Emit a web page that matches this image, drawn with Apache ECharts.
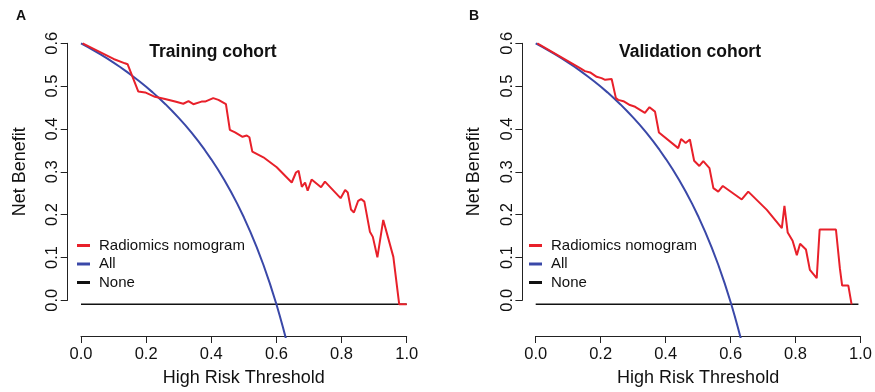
<!DOCTYPE html>
<html><head><meta charset="utf-8">
<script src="https://cdn.jsdelivr.net/npm/echarts@6/dist/echarts.min.js"></script>
<style>html,body{margin:0;padding:0;background:#fff}#c{width:875px;height:392px}</style>
</head><body><div id="c"></div>
<script>
// ---- data ----
const panelLabels = ['A', 'B'];
const panelTitles = ['Training cohort', 'Validation cohort'];
const seriesNames = ['Radiomics nomogram', 'All', 'None'];
const xTicks = [0, 0.2, 0.4, 0.6, 0.8, 1.0];
const yTicks = [0, 0.1, 0.2, 0.3, 0.4, 0.5, 0.6];

// Training cohort: radiomics nomogram
const thrA = [0.005,0.10,0.135,0.143,0.176,0.197,0.227,0.258,0.289,0.314,0.33,0.345,0.37,0.381,0.406,0.422,0.445,0.457,0.473,0.496,0.509,0.517,0.526,0.56,0.601,0.647,0.66,0.668,0.678,0.688,0.696,0.708,0.737,0.749,0.797,0.811,0.819,0.829,0.838,0.851,0.86,0.87,0.887,0.896,0.91,0.928,0.959,0.977,1.0];
const nbA  = [0.6,0.564,0.554,0.552,0.489,0.487,0.477,0.472,0.466,0.461,0.467,0.46,0.466,0.466,0.474,0.47,0.46,0.401,0.395,0.385,0.388,0.384,0.351,0.338,0.315,0.28,0.303,0.307,0.27,0.28,0.261,0.287,0.269,0.282,0.244,0.263,0.257,0.218,0.211,0.238,0.242,0.236,0.167,0.155,0.108,0.194,0.109,0,0];

// Validation cohort: radiomics nomogram
const thrB = [0.005,0.136,0.151,0.167,0.187,0.202,0.213,0.233,0.246,0.253,0.269,0.289,0.305,0.335,0.349,0.366,0.378,0.437,0.446,0.46,0.473,0.486,0.502,0.514,0.533,0.545,0.56,0.574,0.632,0.652,0.709,0.755,0.763,0.773,0.788,0.801,0.811,0.829,0.841,0.862,0.871,0.921,0.933,0.94,0.959,0.969];
const nbB  = [0.6,0.543,0.536,0.533,0.523,0.52,0.516,0.518,0.474,0.47,0.467,0.458,0.454,0.44,0.453,0.443,0.395,0.359,0.38,0.371,0.379,0.33,0.318,0.329,0.313,0.267,0.259,0.272,0.241,0.259,0.217,0.175,0.226,0.165,0.146,0.113,0.139,0.126,0.079,0.06,0.172,0.172,0.083,0.043,0.043,0];

// "All" (treat all) curve, same in both panels
const thrAll = [0,0.02,0.04,0.06,0.08,0.10,0.12,0.14,0.16,0.18,0.20,0.22,0.24,0.26,0.28,0.30,0.32,0.34,0.36,0.38,0.40,0.42,0.44,0.46,0.48,0.50,0.52,0.54,0.56,0.58,0.60,0.61,0.62,0.63,0.64];
const nbAll  = [0.6,0.5918,0.5833,0.5745,0.5652,0.5556,0.5455,0.5349,0.5238,0.5122,0.5,0.4872,0.4737,0.4595,0.4444,0.4286,0.4118,0.3939,0.375,0.3548,0.3333,0.3103,0.2857,0.2593,0.2308,0.2,0.1667,0.1304,0.0909,0.0476,0,-0.0256,-0.0526,-0.0811,-0.1111];

// "None" (treat none) curve
const thrNoneA = [0, 1.0];
const thrNoneB = [0, 0.99];
const nbNone = [0, 0];

// ---- layout ----
const FONT = '"Liberation Sans", Arial, Helvetica, sans-serif';
const RED = '#E8202A', BLUE = '#3A48A8', BLACK = '#111';
const pairs = (xs, ys) => xs.map((x, i) => [x, ys[i]]);

const panels = [
  {x0: 81, w: 325.7, titleX: 213, labelX: 21, legendLeft: 77, nomo: pairs(thrA, nbA), none: pairs(thrNoneA, nbNone)},
  {x0: 535.7, w: 326, titleX: 690, labelX: 474, legendLeft: 529, nomo: pairs(thrB, nbB), none: pairs(thrNoneB, nbNone)}
];
const yTop = 43.3, yH = 261;       // y=0.6 at 43.3, y=0 at 304.3
const dMinX = -0.04, dMaxX = 1.04, dMinY = -0.075, dMaxY = 0.626;

const grid = [], xAxis = [], yAxis = [], series = [], legend = [], graphic = [];
panels.forEach((p, k) => {
  const sx = p.w / 1.0, sy = yH / 0.6;
  // axes grid
  grid.push({left: p.x0, top: yTop, width: p.w, height: yH, containLabel: false});
  // data grid (extended range)
  grid.push({left: p.x0 + dMinX * sx, top: yTop - (dMaxY - 0.6) * sy, width: (dMaxX - dMinX) * sx, height: (dMaxY - dMinY) * sy, containLabel: false});
  const axStyle = {color: '#222', width: 1};
  xAxis.push({
    gridIndex: 2 * k, type: 'value', min: xTicks[0], max: xTicks[xTicks.length - 1], interval: 0.2,
    offset: 35.7, position: 'bottom',
    axisLine: {show: true, onZero: false, lineStyle: axStyle}, axisTick: {show: true, length: 7, lineStyle: axStyle},
    splitLine: {show: false},
    axisLabel: {fontSize: 16.5, fontFamily: FONT, color: '#111', margin: 10, formatter: v => v.toFixed(1)},
    name: 'High Risk Threshold', nameLocation: 'middle', nameGap: 33,
    nameTextStyle: {fontSize: 18, fontFamily: FONT, color: '#111'}
  });
  xAxis.push({gridIndex: 2 * k + 1, type: 'value', min: dMinX, max: dMaxX, show: false});
  yAxis.push({
    gridIndex: 2 * k, type: 'value', min: yTicks[0], max: yTicks[yTicks.length - 1], interval: 0.1,
    offset: 13.3, position: 'left',
    axisLine: {show: true, onZero: false, lineStyle: axStyle}, axisTick: {show: true, length: 7, lineStyle: axStyle},
    splitLine: {show: false},
    axisLabel: {fontSize: 16.5, fontFamily: FONT, color: '#111', margin: 6.5, rotate: 90, formatter: v => v.toFixed(1)},
    name: 'Net Benefit', nameLocation: 'middle', nameGap: 39,
    nameTextStyle: {fontSize: 18, fontFamily: FONT, color: '#111'}
  });
  yAxis.push({gridIndex: 2 * k + 1, type: 'value', min: dMinY, max: dMaxY, show: false});

  const xi = 2 * k + 1, yi = 2 * k + 1;
  series.push({name: seriesNames[2], type: 'line', xAxisIndex: xi, yAxisIndex: yi, data: p.none, showSymbol: false, lineStyle: {color: BLACK, width: 1.5}, itemStyle: {color: BLACK}, silent: true, animation: false});
  series.push({name: seriesNames[1], type: 'line', xAxisIndex: xi, yAxisIndex: yi, data: pairs(thrAll, nbAll), showSymbol: false, lineStyle: {color: BLUE, width: 2}, itemStyle: {color: BLUE}, silent: true, animation: false});
  series.push({name: seriesNames[0], type: 'line', xAxisIndex: xi, yAxisIndex: yi, data: p.nomo, showSymbol: false, lineStyle: {color: RED, width: 2}, itemStyle: {color: RED}, silent: true, animation: false});

  legend.push({
    data: seriesNames, orient: 'vertical', left: p.legendLeft, top: 237.5, padding: 0,
    icon: 'rect', itemWidth: 13, itemHeight: 3, itemGap: 2.5,
    textStyle: {fontSize: 15, fontFamily: FONT, color: '#111', lineHeight: 16, padding: [0, 0, 0, 4]},
    selectedMode: false
  });
  graphic.push({type: 'text', x: p.titleX, y: 52, style: {text: panelTitles[k], font: 'bold 17.5px ' + FONT, fill: '#111', textAlign: 'center', textVerticalAlign: 'middle'}});
  graphic.push({type: 'text', x: p.labelX, y: 16, style: {text: panelLabels[k], font: 'bold 14px ' + FONT, fill: '#111', textAlign: 'center', textVerticalAlign: 'middle'}});
});

const chart = echarts.init(document.getElementById('c'), null, {renderer: 'canvas'});
chart.setOption({animation: false, backgroundColor: '#fff', grid, xAxis, yAxis, series, legend, graphic});
</script></body></html>
